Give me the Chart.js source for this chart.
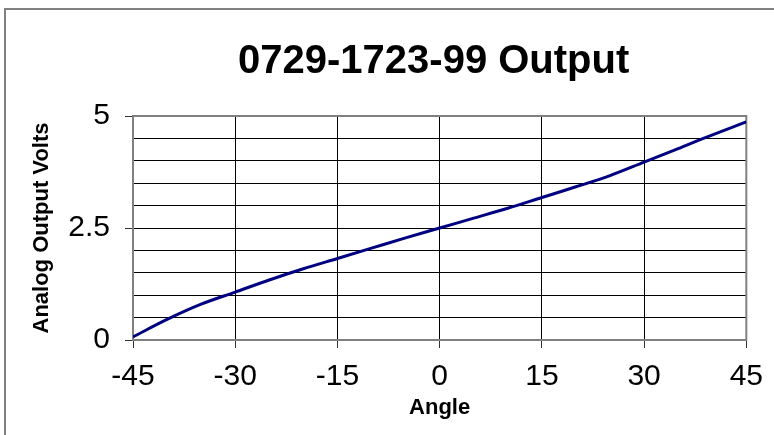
<!DOCTYPE html>
<html>
<head>
<meta charset="utf-8">
<script src="https://cdn.jsdelivr.net/npm/chart.js@4/dist/chart.umd.min.js"></script>
<style>
  html, body { margin: 0; padding: 0; background: #fff; }
  #wrap { width: 774px; height: 435px; position: relative; }
</style>
</head>
<body>
<div id="wrap"><canvas id="c" width="774" height="435"></canvas></div>
<script>
const chartTitle = '0729-1723-99 Output';
const xTitle = 'Angle';
const yTitle = 'Analog Output Volts';
const angles = [-45, -40, -35, -30, -25, -20, -15, -10, -5, 0, 5, 10, 15, 20, 25, 30, 35, 38.7, 45];
const volts  = [0.07, 0.46, 0.80, 1.07, 1.34, 1.59, 1.82, 2.05, 2.28, 2.50, 2.72, 2.94, 3.18, 3.42, 3.67, 3.97, 4.27, 4.50, 4.87];
const yLabeled = [0, 2.5, 5];

const FONT = "'Liberation Sans', Arial, Helvetica, sans-serif";

const framePlugin = {
  id: 'frame',
  beforeDraw(chart) {
    const ctx = chart.ctx;
    ctx.save();
    ctx.fillStyle = '#fff';
    ctx.fillRect(0, 0, chart.width, chart.height);
    ctx.strokeStyle = '#808080';
    ctx.lineWidth = 2;
    ctx.beginPath();
    ctx.moveTo(5, chart.height + 2);
    ctx.lineTo(5, 9);
    ctx.lineTo(chart.width + 2, 9);
    ctx.stroke();
    // chart title, centred over the plot area
    const a = chart.chartArea;
    ctx.fillStyle = '#000';
    ctx.font = 'bold 40px ' + FONT;
    ctx.textAlign = 'center';
    ctx.textBaseline = 'alphabetic';
    ctx.fillText(chartTitle, (a.left + a.right) / 2 - 6, 73);
    ctx.restore();
  },
  beforeDatasetsDraw(chart) {
    const a = chart.chartArea;
    const ctx = chart.ctx;
    ctx.save();
    ctx.strokeStyle = '#808080';
    ctx.lineWidth = 2;
    ctx.strokeRect(a.left, a.top, a.right - a.left, a.bottom - a.top);
    ctx.restore();
  }
};

new Chart(document.getElementById('c'), {
  type: 'line',
  data: {
    datasets: [{
      data: angles.map((a, i) => ({ x: a, y: volts[i] })),
      borderColor: '#000080',
      borderWidth: 3,
      pointRadius: 0,
      cubicInterpolationMode: 'monotone',
      fill: false
    }]
  },
  plugins: [framePlugin],
  options: {
    responsive: false,
    animation: false,
    layout: { padding: { left: 0, right: 24, top: 116, bottom: 0 } },
    plugins: {
      legend: { display: false },
      tooltip: { enabled: false },
      title: { display: false }
    },
    scales: {
      x: {
        type: 'linear',
        min: -45, max: 45,
        afterFit(s) { s.height = 95; },
        border: { display: false },
        grid: { color: '#000', lineWidth: 1, drawTicks: true, tickLength: 8, tickColor: '#333' },
        ticks: {
          stepSize: 15,
          color: '#000',
          padding: 11,
          maxRotation: 0,
          autoSkip: false,
          font: { family: FONT, size: 30 }
        },
        title: {
          display: true,
          text: xTitle,
          color: '#000',
          font: { family: FONT, size: 22, weight: 'bold' },
          padding: { top: 0, bottom: 14 }
        }
      },
      y: {
        min: 0, max: 5,
        afterFit(s) { s.width = 133; },
        border: { display: false },
        grid: {
          color: '#000', lineWidth: 1, drawTicks: true, tickLength: 8,
          tickColor: (c) => (c.tick && yLabeled.includes(c.tick.value)) ? '#333' : 'rgba(0,0,0,0)'
        },
        ticks: {
          stepSize: 0.5,
          autoSkip: false,
          color: '#000',
          padding: 15,
          font: { family: FONT, size: 30 },
          callback: (v) => yLabeled.includes(v) ? String(v) : ''
        },
        title: {
          display: true,
          text: yTitle,
          color: '#000',
          font: { family: FONT, size: 22, weight: 'bold' },
          padding: { top: 29, bottom: 0 }
        }
      }
    }
  }
});
</script>
</body>
</html>
